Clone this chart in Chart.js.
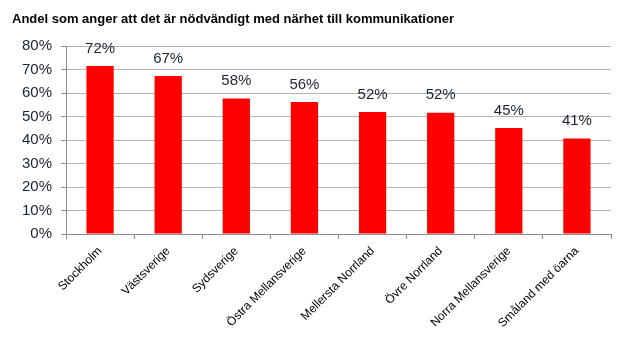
<!DOCTYPE html>
<html><head><meta charset="utf-8">
<script src="https://cdn.jsdelivr.net/npm/chart.js@4"></script>
<style>html,body{margin:0;padding:0;background:#fff}#wrap{width:628px;height:348px}</style>
</head><body><div id="wrap"><canvas id="c"></canvas></div>
<script>
const titleText = 'Andel som anger att det är nödvändigt med närhet till kommunikationer';
const categories = ['Stockholm','Västsverige','Sydsverige','Östra Mellansverige','Mellersta Norrland','Övre Norrland','Norra Mellansverige','Småland med öarna'];
const values = [71.5, 67.2, 57.7, 56.2, 51.9, 51.6, 45.1, 40.6];
const yTicks = [0,10,20,30,40,50,60,70,80];

const textColor = '#1c2431';
const labelPlugin = {
  id: 'barLabels',
  afterDatasetsDraw(chart) {
    const ctx = chart.ctx;
    const meta = chart.getDatasetMeta(0);
    ctx.save();
    ctx.font = '15px "Liberation Sans", Arial, sans-serif';
    ctx.fillStyle = textColor;
    ctx.textAlign = 'center';
    ctx.textBaseline = 'bottom';
    meta.data.forEach((bar, i) => {
      ctx.fillText(Math.round(values[i]) + '%', bar.x, bar.y - 10);
    });
    ctx.restore();
  }
};

new Chart(document.getElementById('c'), {
  type: 'bar',
  data: { labels: categories, datasets: [{ data: values, backgroundColor: '#ff0000', borderWidth: 0, categoryPercentage: 1, barPercentage: 0.4 }] },
  options: {
    responsive: true, maintainAspectRatio: false, animation: false,
    layout: { padding: { left: 12, right: 17, top: 0, bottom: 0 } },
    plugins: {
      legend: { display: false }, tooltip: { enabled: false },
      title: { display: true, text: titleText, align: 'start', color: '#000',
        font: { family: '"Liberation Sans", Arial, sans-serif', size: 13, weight: 'bold', lineHeight: 1.2 },
        padding: { top: 12, bottom: 18.4 } }
    },
    scales: {
      y: {
        min: 0, max: 80,
        afterFit(s) { s.width = 54; },
        afterBuildTicks(s) { s.ticks = yTicks.map(v => ({ value: v })); },
        ticks: { color: textColor, padding: 9, font: { family: '"Liberation Sans", Arial, sans-serif', size: 15 }, callback: v => v + '%' },
        grid: { color: '#b4b4b4', lineWidth: 1, tickLength: 5, tickColor: '#8c8c8c' },
        border: { color: '#8c8c8c', width: 1 }
      },
      x: {
        afterFit(s) { s.height = 114; },
        ticks: { color: '#000', minRotation: 45, maxRotation: 45, padding: 5, autoSkip: false, font: { family: '"Liberation Sans", Arial, sans-serif', size: 12 } },
        grid: { offset: true, drawOnChartArea: false, tickLength: 5, color: '#8c8c8c' },
        border: { color: '#8c8c8c', width: 1 }
      }
    }
  },
  plugins: [labelPlugin]
});
</script></body></html>
